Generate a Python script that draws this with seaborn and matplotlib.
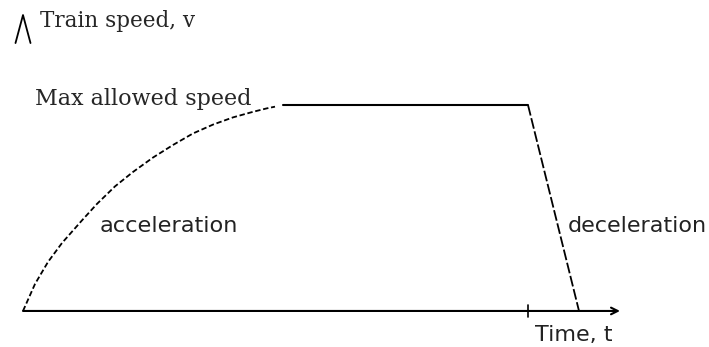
import matplotlib
matplotlib.use("Agg")
import matplotlib.pyplot as plt
import seaborn as sns
import pandas as pd

sns.set_theme(style="white")
plt.rcParams['font.family'] = ['DejaVu Sans']

# --- data (time in arbitrary units, speed as fraction of max) ---
accel_t = [0.00, 0.12, 0.25, 0.39, 0.59, 0.74, 0.92, 1.10, 1.30, 1.50, 1.70, 1.90, 2.10, 2.30, 2.44, 2.52]
accel_v = [0.00, 0.131, 0.238, 0.330, 0.440, 0.520, 0.605, 0.675, 0.745, 0.806, 0.862, 0.905, 0.940, 0.967, 0.984, 0.992]
cruise_t = [2.60, 5.05]
cruise_v = [1.0, 1.0]
decel_t = [5.05, 5.56]
decel_v = [1.0, 0.0]
axis_end_t = 5.97
tick_t = 5.05
yarrow_top = 1.437
yarrow_len = 0.136
yarrow_half_w = 0.075

labels = {
    "ylabel": "Train speed, v",
    "max": "Max allowed speed",
    "acc": "acceleration",
    "dec": "deceleration",
    "xlabel": "Time, t",
}

fig = plt.figure(figsize=(7.09, 3.47), dpi=100)
ax = fig.add_axes([0, 0, 1, 1])
ax.set_xlim(-0.23, 6.86)
ax.set_ylim(-0.175, 1.51)
ax.axis("off")

acc_df = pd.DataFrame({"t": accel_t, "v": accel_v})
cru_df = pd.DataFrame({"t": cruise_t, "v": cruise_v})
dec_df = pd.DataFrame({"t": decel_t, "v": decel_v})

sns.lineplot(data=acc_df, x="t", y="v", ax=ax, sort=False, color="black",
             lw=1.3, linestyle=(0, (3, 1.5)))
sns.lineplot(data=cru_df, x="t", y="v", ax=ax, sort=False, color="black", lw=1.5)
sns.lineplot(data=dec_df, x="t", y="v", ax=ax, sort=False, color="black",
             lw=1.3, linestyle=(0, (6, 1.5)))

# x axis with arrow
ax.annotate("", xy=(axis_end_t, 0), xytext=(0, 0),
            arrowprops=dict(arrowstyle="->", lw=1.5, color="black",
                            shrinkA=0, shrinkB=0, mutation_scale=12))
# tick mark
ax.plot([tick_t, tick_t], [-0.03, 0.03], color="black", lw=1.2)

# y-axis open arrowhead (no shaft)
ax.plot([-yarrow_half_w, 0.0, yarrow_half_w],
        [yarrow_top - yarrow_len, yarrow_top, yarrow_top - yarrow_len],
        color="black", lw=1.3)

serif = ['DejaVu Serif']
ax.text(0.17, 1.41, labels["ylabel"], family=serif, fontsize=15.5, va="center", ha="left")
ax.text(0.12, 1.0, labels["max"], family=serif, fontsize=16, va="baseline", ha="left")
ax.text(0.77, 0.383, labels["acc"], fontsize=16.2, va="baseline", ha="left", color="#222222")
ax.text(5.45, 0.383, labels["dec"], fontsize=16, va="baseline", ha="left", color="#222222")
ax.text(5.12, -0.146, labels["xlabel"], fontsize=16, va="baseline", ha="left", color="#222222")

fig.savefig("out.png", dpi=100, facecolor="white")
